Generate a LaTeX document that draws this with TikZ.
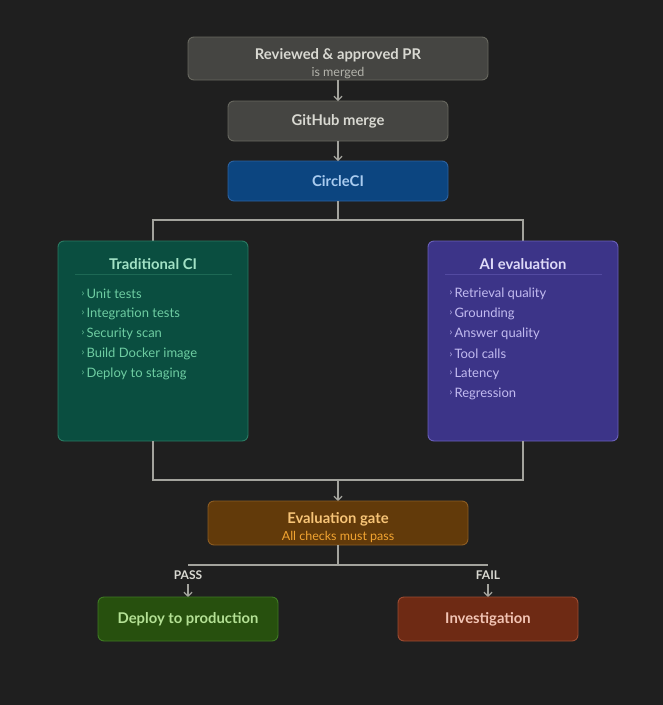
\documentclass[tikz,border=0pt]{standalone}
\usepackage{fontspec}
\setmainfont{Lato}
\usetikzlibrary{arrows.meta}
\definecolor{bg}{HTML}{1F1F1F}
\definecolor{ln}{HTML}{A3A39D}
\definecolor{grayf}{HTML}{454542}
\definecolor{grayd}{HTML}{67675F}
\definecolor{grayt}{HTML}{D9D9D2}
\definecolor{grays}{HTML}{B3B3AB}
\definecolor{bluef}{HTML}{0C4580}
\definecolor{blued}{HTML}{2C62A0}
\definecolor{bluet}{HTML}{A9CBEF}
\definecolor{greenf}{HTML}{0A4E40}
\definecolor{greend}{HTML}{2A7A62}
\definecolor{greent}{HTML}{A2E2C6}
\definecolor{greeni}{HTML}{6ECDA2}
\definecolor{purpf}{HTML}{3C3488}
\definecolor{purpd}{HTML}{6A60BA}
\definecolor{purpt}{HTML}{DEDAF8}
\definecolor{purpi}{HTML}{C2BBF0}
\definecolor{orf}{HTML}{623A0A}
\definecolor{ord}{HTML}{8C5C22}
\definecolor{ort}{HTML}{F7C477}
\definecolor{ors}{HTML}{F2A431}
\definecolor{lgf}{HTML}{27500E}
\definecolor{lgd}{HTML}{3F7A24}
\definecolor{lgt}{HTML}{B4E195}
\definecolor{rdf}{HTML}{6E2A14}
\definecolor{rdd}{HTML}{9C4C32}
\definecolor{rdt}{HTML}{F2C4B4}
\tikzset{
  box/.style={rounded corners=6pt, line width=0.9pt},
  conn/.style={draw=ln, line width=1.5pt},
  arr/.style={conn, -{Straight Barb[length=4pt,width=8pt,line width=1.2pt]}},
  ttl/.style={font=\bfseries\fontsize{14.8}{16}\selectfont, anchor=center},
  sub/.style={font=\fontsize{12.5}{14}\selectfont, anchor=center},
  itm/.style={font=\fontsize{13}{14}\selectfont, anchor=west},
  lbl/.style={font=\bfseries\fontsize{12}{13}\selectfont, text=grayt, anchor=center},
}
\newcommand{\chev}{\raisebox{1.2pt}{\fontsize{10}{10}\selectfont›}\,}
\begin{document}
\begin{tikzpicture}[x=1pt,y=-1pt]
\fill[bg] (0,0) rectangle (663,705);
\useasboundingbox (0,0) rectangle (663,705);

% Reviewed
\draw[box, fill=grayf, draw=grayd] (188,37) rectangle (488,80);
\node[ttl, text=grayt] (rev) at (338,55.5) {Reviewed \& approved PR};
\node[sub, text=grays] (revs) at (338,73) {is merged};
\coordinate (revB) at (338,80);

% GitHub
\draw[box, fill=grayf, draw=grayd] (228,101) rectangle (448,141);
\node[ttl, text=grayt] (gh) at (338,121.5) {GitHub merge};
\coordinate (ghT) at (338,101);
\coordinate (ghB) at (338,141);

% CircleCI
\draw[box, fill=bluef, draw=blued] (228,161) rectangle (448,201);
\node[ttl, text=bluet] (cc) at (338,181.5) {CircleCI};
\coordinate (ccT) at (338,161);
\coordinate (ccB) at (338,201);

\draw[arr] (revB) -- (ghT);
\draw[arr] (ghB) -- (ccT);

% split
\coordinate (sp) at (338,220);
\coordinate (tcT) at (153,241);
\coordinate (aiT) at (523,241);
\draw[conn] (ccB) -- (sp);
\draw[conn] (tcT) |- (sp) -| (aiT);

% Traditional CI
\draw[box, fill=greenf, draw=greend] (58,241) rectangle (248,441);
\node[ttl, text=greent] (tc) at (153,264) {Traditional CI};
\draw[greend!60!greenf, line width=0.6pt] (75,274.5) -- (232,274.5);
\foreach \t [count=\i] in {Unit tests, Integration tests, Security scan, Build Docker image, Deploy to staging}{
  \node[itm, text=greeni] (tc\i) at (78,273.5+20*\i) {\chev\t};
}
\coordinate (tcB) at (153,441);

% AI evaluation
\draw[box, fill=purpf, draw=purpd] (428,241) rectangle (618,441);
\node[ttl, text=purpt] (ai) at (523,264) {AI evaluation};
\draw[purpd!50!purpf, line width=0.6pt] (445,274.5) -- (602,274.5);
\foreach \t [count=\i] in {Retrieval quality, Grounding, Answer quality, Tool calls, Latency, Regression}{
  \node[itm, text=purpi] (ai\i) at (446,273.5+20*\i) {\chev\t};
}
\coordinate (aiB) at (523,441);

% join
\coordinate (jn) at (338,480);
\coordinate (egT) at (338,501);
\draw[conn] (tcB) |- (jn) -| (aiB);
\draw[arr] (jn) -- (egT);

% Evaluation gate
\draw[box, fill=orf, draw=ord] (208,501) rectangle (468,545);
\node[ttl, text=ort] (eg) at (338,519.5) {Evaluation gate};
\node[sub, text=ors] (egs) at (338,537) {All checks must pass};
\coordinate (egB) at (338,545);

% branch
\coordinate (br) at (338,565);
\coordinate (brL) at (188,565);
\coordinate (brR) at (488,565);
\draw[conn] (egB) -- (br);
\draw[conn] (brL) -- (brR);
\node[lbl] (pass) at (188,575) {PASS};
\node[lbl] (fail) at (488,575) {FAIL};
\coordinate (dpT) at (188,597);
\coordinate (invT) at (488,597);
\coordinate (pa) at (188,584);
\coordinate (fa) at (488,584);
\draw[arr] (pa) -- (dpT);
\draw[arr] (fa) -- (invT);

% Deploy to production
\draw[box, fill=lgf, draw=lgd] (98,597) rectangle (278,641);
\node[ttl, text=lgt] (dp) at (188,619.5) {Deploy to production};

% Investigation
\draw[box, fill=rdf, draw=rdd] (398,597) rectangle (578,641);
\node[ttl, text=rdt] (inv) at (488,619.5) {Investigation};
\end{tikzpicture}
\end{document}
